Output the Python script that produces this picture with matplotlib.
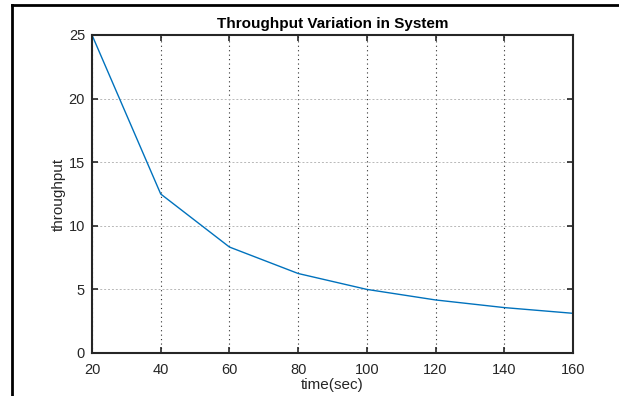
import matplotlib
matplotlib.use('Agg')
import matplotlib.pyplot as plt
from matplotlib.lines import Line2D

"""Throughput Variation in System"""

time_sec = [20, 40, 60, 80, 100, 120, 140, 160]
throughput = [25.0, 12.5, 8.33, 6.25, 5.0, 4.17, 3.57, 3.12]
x_ticks = [20, 40, 60, 80, 100, 120, 140, 160]
y_ticks = [0, 5, 10, 15, 20, 25]

plt.rcParams['font.family'] = ['Liberation Sans', 'DejaVu Sans']

W, H = 619, 396
fig = plt.figure(figsize=(W / 100, H / 100), dpi=100)
ax = fig.add_axes([92 / W, 1 - 353 / H, (573 - 92) / W, (353 - 35) / H])

ax.plot(time_sec, throughput, color='#0072BD', lw=1.0)
ax.set_xlim(20, 160)
ax.set_ylim(0, 25)
ax.set_xticks(x_ticks)
ax.set_yticks(y_ticks)

ax.xaxis.grid(True, color='#303030', linestyle=(0, (1, 3)), lw=0.8)
ax.yaxis.grid(True, color='#b8b8b8', linestyle=(0, (2, 2)), lw=0.7)

ax.tick_params(direction='in', top=True, right=True, length=4, width=1.2,
               labelsize=10.5, colors='#262626')
ax.tick_params(axis='x', pad=7)
ax.tick_params(axis='y', pad=5)
for s in ax.spines.values():
    s.set_linewidth(1.5)
    s.set_color('#262626')

ax.set_xlabel('time(sec)', fontsize=11, color='#262626', labelpad=1)
ax.set_ylabel('throughput', fontsize=11, color='#262626', labelpad=2)
ax.set_title('Throughput Variation in System', fontsize=11, fontweight='bold', pad=5)

# outer frame (cropped at right and bottom)
fig.add_artist(Line2D([11.5 / W, 11.5 / W], [0, 1 - 4.5 / H], color='black', lw=2,
                      transform=fig.transFigure))
fig.add_artist(Line2D([11.5 / W, 1], [1 - 4.5 / H, 1 - 4.5 / H], color='black', lw=2,
                      transform=fig.transFigure))

fig.savefig('out.png', dpi=100)
